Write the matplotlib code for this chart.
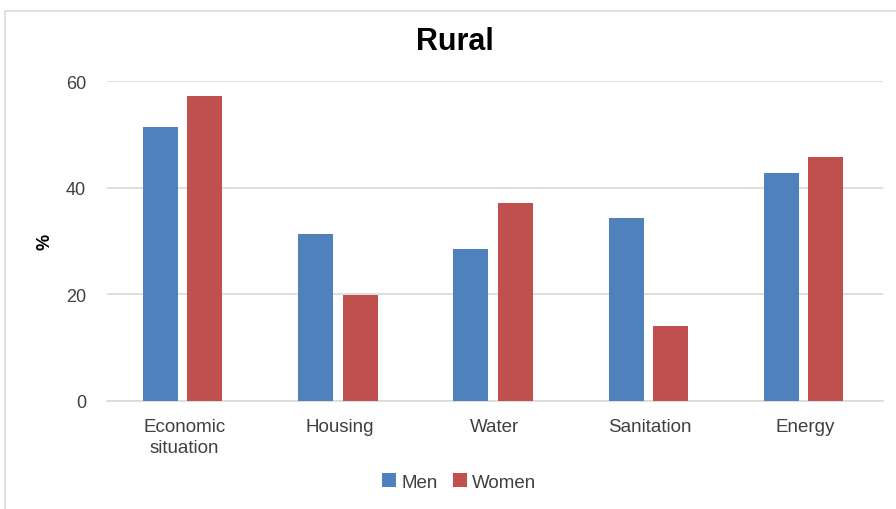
import matplotlib.pyplot as plt
import matplotlib.patches as mpatches
import numpy as np

plt.rcParams['font.family'] = ['Liberation Sans Narrow', 'Liberation Sans', 'DejaVu Sans']

categories = ['Economic\nsituation', 'Housing', 'Water', 'Sanitation', 'Energy']
men = [51.4, 31.3, 28.5, 34.3, 42.8]
women = [57.2, 19.9, 37.1, 14.1, 45.8]
yticks = [0, 20, 40, 60]

blue = '#4F81BD'
red = '#C0504D'

fig = plt.figure(figsize=(8.96, 5.10), dpi=100)
ax = fig.add_axes([0.1194, 0.2118, 0.8661, 0.6274])

# light frame round the chart
fig.patches.append(mpatches.Rectangle((5 / 896, -0.1), 1.1, 1 - 12 / 510 + 0.1,
                                      transform=fig.transFigure, fill=False,
                                      edgecolor='#d9d9d9', linewidth=1.2))

x = np.arange(len(categories))
w = 0.225
off = 0.143
ax.bar(x - off - 0.012, men, w, color=blue, label='Men', zorder=3)
ax.bar(x + off - 0.012, women, w, color=red, label='Women', zorder=3)

ax.set_xlim(-0.5, len(categories) - 0.5)
ax.set_ylim(0, 60)
ax.set_yticks(yticks)
ax.set_yticklabels([str(t) for t in yticks], fontsize=13, color='#404040')
ax.set_xticks(x)
ax.set_xticklabels(categories, fontsize=13.5, color='#404040', linespacing=1.25)
ax.tick_params(axis='both', length=0)
ax.tick_params(axis='y', pad=15)
ax.tick_params(axis='x', pad=12.5)

ax.yaxis.grid(True, color='#d9d9d9', linewidth=1.2, zorder=0)
ax.set_axisbelow(True)
for s in ['top', 'right', 'left']:
    ax.spines[s].set_visible(False)
ax.spines['bottom'].set_color('#d9d9d9')
ax.spines['bottom'].set_linewidth(1.2)

fig.text(455 / 896, 1 - 42 / 510, 'Rural', ha='center', va='center',
         fontsize=22, fontweight='bold', color='black')
fig.text(45 / 896, 1 - 242 / 510, '%', ha='center', va='center', rotation=90,
         fontsize=13, fontweight='bold', color='black')

fig.legend(loc='center', bbox_to_anchor=(459 / 896, 1 - 483 / 510), ncol=2,
           frameon=False, fontsize=13.5, handlelength=0.75, handleheight=0.75,
           handletextpad=0.3, columnspacing=0.8, labelcolor='#404040')

fig.savefig('out.png', dpi=100)
